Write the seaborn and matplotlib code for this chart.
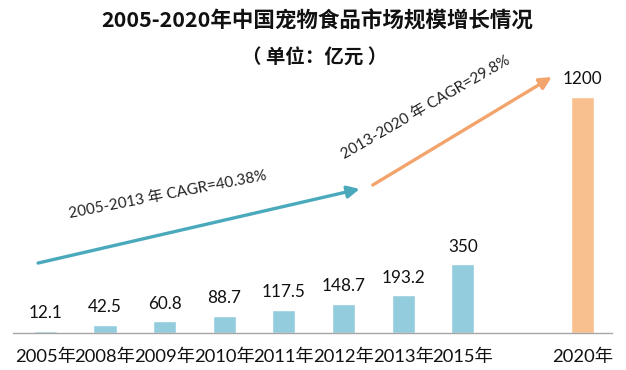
import matplotlib
matplotlib.use("Agg")
import matplotlib.pyplot as plt
import seaborn as sns
import pandas as pd

# ---- data ----
years = ["2005年", "2008年", "2009年", "2010年", "2011年", "2012年", "2013年", "2015年", "2020年"]
values = [12.1, 42.5, 60.8, 88.7, 117.5, 148.7, 193.2, 350, 1200]
value_labels = ["12.1", "42.5", "60.8", "88.7", "117.5", "148.7", "193.2", "350", "1200"]
order = ["2005年", "2008年", "2009年", "2010年", "2011年", "2012年", "2013年", "2015年", " ", "2020年"]
title = "2005-2020年中国宠物食品市场规模增长情况"
subtitle = "（ 单位：亿元 ）"
cagr1 = "2005-2013 年 CAGR=40.38%"
cagr2 = "2013-2020 年 CAGR=29.8%"

blue = "#93CDDD"
orange = "#F9C08F"
colors = {y: (orange if y == "2020年" else blue) for y in years}

df = pd.DataFrame({"year": years, "value": values})

sns.set_theme(style="white")
plt.rcParams["font.family"] = ["Lato", "Noto Sans CJK SC", "DejaVu Sans"]

fig = plt.figure(figsize=(6.26, 3.70), dpi=100)
ax = fig.add_axes([13 / 626, 37 / 370, 599 / 626, 333 / 370])

sns.barplot(data=df, x="year", y="value", hue="year", order=order, hue_order=years,
            palette=colors, width=0.39, legend=False, ax=ax, saturation=1)

ax.set_xlim(-0.54, 9.5)
ax.set_ylim(0, 1690)
for s in ["top", "right", "left"]:
    ax.spines[s].set_visible(False)
ax.spines["bottom"].set_color("#A6A6A6")
ax.spines["bottom"].set_linewidth(1.0)
ax.set_yticks([])
ax.set_xlabel("")
ax.set_ylabel("")
ax.tick_params(axis="x", length=0, pad=11, labelsize=13.2, colors="#111111")
for lab in ax.get_xticklabels():
    lab.set_family(["Lato", "Noto Sans CJK SC"])

# value labels
pos = {y: i for i, y in enumerate(order)}
for y, v, t in zip(years, values, value_labels):
    ax.annotate(t, (pos[y], v), xytext=(0, 12.5), textcoords="offset points",
                ha="center", va="center", fontsize=12.3, color="#111111")

# CAGR arrows
ax.annotate("", xy=(5.27, 731), xytext=(-0.12, 355),
            arrowprops=dict(arrowstyle="-|>,head_length=0.6,head_width=0.3",
                            color="#4BA9BC", lw=2.4, shrinkA=0, shrinkB=0))
ax.annotate("", xy=(8.49, 1299), xytext=(5.49, 751),
            arrowprops=dict(arrowstyle="-|>,head_length=0.6,head_width=0.3",
                            color="#F3A46C", lw=2.4, shrinkA=0, shrinkB=0))

fig.text(168 / 626, 1 - 195 / 370, cagr1, rotation=11, ha="center", va="center",
         fontsize=11, color="#222222", family=["Lato", "Noto Sans CJK SC"],
         rotation_mode="anchor")
fig.text(426 / 626, 1 - 108 / 370, cagr2, rotation=30, ha="center", va="center",
         fontsize=11, color="#222222", family=["Lato", "Noto Sans CJK SC"],
         rotation_mode="anchor")

fig.text(317 / 626, 1 - 21 / 370, title, ha="center", va="center", fontsize=15.5,
         fontweight="bold", color="#111111", family=["Noto Sans CJK SC", "DejaVu Sans"])
fig.text(315 / 626, 1 - 58 / 370, subtitle, ha="center", va="center", fontsize=14,
         fontweight="bold", color="#111111", family=["Noto Sans CJK SC", "DejaVu Sans"])

fig.savefig("out.png", dpi=100)
